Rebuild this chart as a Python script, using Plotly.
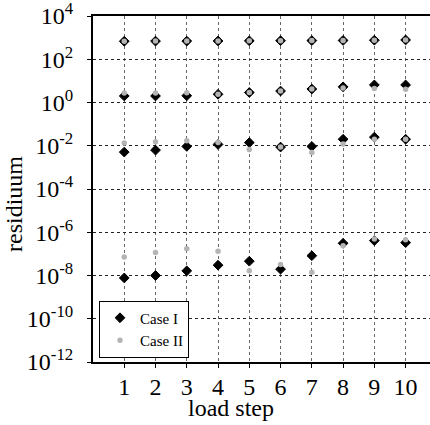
import plotly.graph_objects as go

load_steps = [1, 2, 3, 4, 5, 6, 7, 8, 9, 10]

# Case I (black diamonds), four residual groups
case1_top = [680, 690, 690, 700, 710, 720, 730, 740, 760, 780]
case1_mid = [2.0, 2.0, 2.06, 2.4, 2.9, 3.4, 4.2, 5.3, 6.5, 6.5]
case1_low = [5.1e-3, 6.3e-3, 9.3e-3, 1.15e-2, 1.4e-2, 8.7e-3, 9.3e-3, 2.0e-2, 2.5e-2, 2.0e-2]
case1_min = [7.7e-9, 1.0e-8, 1.64e-8, 3.0e-8, 4.6e-8, 1.96e-8, 8.2e-8, 3.1e-7, 4.1e-7, 3.3e-7]

# Case II (grey dots)
case2_top = [680, 690, 690, 700, 710, 720, 730, 740, 760, 780]
case2_mid = [2.75, 2.75, 2.8, 2.4, 2.9, 3.4, 4.2, 4.7, 4.4, 4.1]
case2_low = [1.33e-2, 1.53e-2, 1.7e-2, 1.4e-2, 6.7e-3, 8.7e-3, 4.9e-3, 1.2e-2, 2.0e-2, 2.0e-2]
case2_min = [7.1e-8, 1.17e-7, 1.73e-7, 1.32e-7, 1.64e-8, 3.2e-8, 1.4e-8, 2.4e-7, 4.9e-7, 4.5e-7]

y_tick_exps = [4, 2, 0, -2, -4, -6, -8, -10, -12]

case1_x = load_steps * 4
case1_y = case1_top + case1_mid + case1_low + case1_min
case2_x = load_steps * 4
case2_y = case2_top + case2_mid + case2_low + case2_min

fig = go.Figure()
fig.add_trace(go.Scatter(
    x=case1_x, y=case1_y, mode="markers", name="Case I",
    marker=dict(symbol="diamond", size=7.5, color="black",
                line=dict(color="black", width=1)),
))
fig.add_trace(go.Scatter(
    x=case2_x, y=case2_y, mode="markers", name="Case II",
    marker=dict(symbol="circle", size=5.5, color="#b4b4b4", line=dict(width=0)),
))

FAM = "Liberation Serif, Times New Roman, serif"
tick_font = dict(family=FAM, size=24, color="black")
title_font = dict(family=FAM, size=24, color="black")

W, H = 430, 425
ML, MR, MT, MB = 93, 0, 16, 63
PW, PH = W - ML - MR, H - MT - MB


def px_x(x):
    return (x - ML) / PW


def px_y(y):
    return ((H - MB) - y) / PH


fig.update_layout(
    width=W, height=H,
    margin=dict(l=ML, r=MR, t=MT, b=MB),
    paper_bgcolor="white", plot_bgcolor="white",
    font=tick_font,
    showlegend=True,
    legend=dict(
        x=px_x(99), y=px_y(329), xanchor="left", yanchor="middle",
        bgcolor="white", bordercolor="black", borderwidth=1,
        font=dict(family=FAM, size=15, color="black"),
        itemwidth=30, tracegroupgap=0,
    ),
    xaxis=dict(
        range=[0, 10.78],
        tickmode="array", tickvals=load_steps, ticktext=[str(v) for v in load_steps],
        tickfont=tick_font,
        showline=True, linecolor="black", linewidth=2, mirror=True,
        ticks="outside", ticklen=4, tickcolor="black", tickwidth=1,
        ticklabelstandoff=-2,
        showgrid=True, gridcolor="#666666", gridwidth=1, griddash="dot",
        zeroline=False, automargin=False,
    ),
    yaxis=dict(
        type="log", range=[-12, 4],
        tickmode="array",
        tickvals=[10.0 ** e for e in y_tick_exps],
        ticktext=["10<sup>%d</sup>" % e for e in y_tick_exps],
        tickfont=tick_font,
        showline=True, linecolor="black", linewidth=2,
        ticks="outside", ticklen=4, tickcolor="black", tickwidth=1,
        ticklabelstandoff=9, ticklabeloverflow="allow",
        showgrid=True, gridcolor="#222222", gridwidth=1, griddash="dot",
        zeroline=False, automargin=False,
    ),
    annotations=[
        dict(text="load step", xref="paper", yref="paper",
             x=px_x(231), y=px_y(408),
             xanchor="center", yanchor="middle", showarrow=False, font=title_font),
        dict(text="residiuum", xref="paper", yref="paper",
             x=px_x(14), y=px_y(204),
             xanchor="center", yanchor="middle", showarrow=False, textangle=-90,
             font=title_font),
    ],
)

fig.write_html("out.html")
